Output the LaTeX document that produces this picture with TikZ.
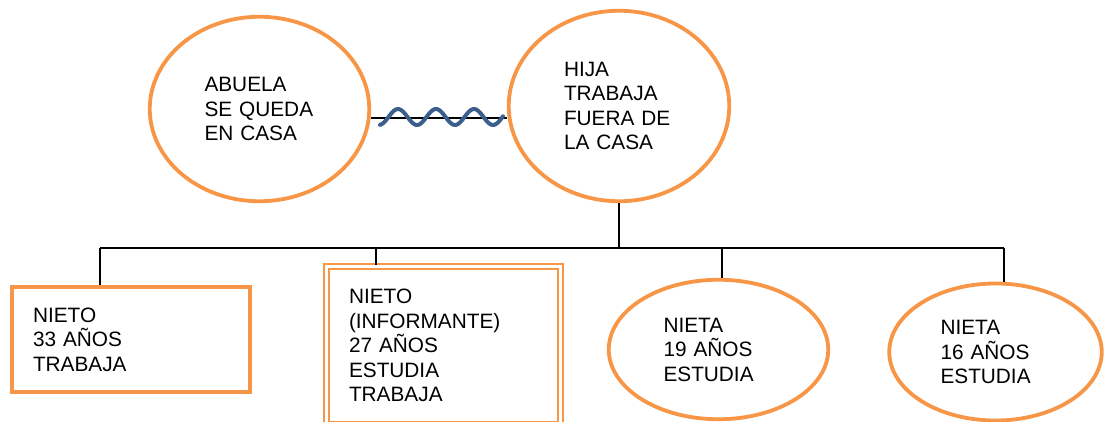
\documentclass[tikz,border=0pt]{standalone}
\usepackage{fontspec}
\setmainfont{Liberation Sans}
\usetikzlibrary{shapes.geometric}
\definecolor{naranja}{RGB}{247,150,70}
\definecolor{azul}{RGB}{59,94,140}
\tikzstyle{circulo} = [ellipse, draw=naranja, line width=3.8pt, inner sep=0pt, text width=110pt, align=left, font=\fontsize{20.8}{24.5}\selectfont]
\tikzstyle{caja} = [rectangle, draw=naranja, line width=3.8pt, inner sep=0pt, align=left, font=\fontsize{20.8}{24.5}\selectfont]
\tikzstyle{cajadoble} = [rectangle, draw=naranja, line width=2pt, double=white, double distance=3pt, inner sep=0pt, align=left, font=\fontsize{20.8}{24.5}\selectfont]
\tikzstyle{linea} = [line width=1.6pt]
\tikzstyle{onda} = [draw=azul, line width=4pt, line cap=round, smooth]

\begin{document}
\begin{tikzpicture}[x=1pt,y=-1pt]
\useasboundingbox (0,0) rectangle (1104,422);
\node (abuela) [circulo, minimum width=219.5pt, minimum height=184.5pt] at (259.5,109) {ABUELA\\SE QUEDA\\EN CASA};
\node (hija) [circulo, minimum width=220.5pt, minimum height=190.5pt] at (619,106) {HIJA\\TRABAJA\\FUERA DE\\LA CASA};
\node (nieto) [caja, minimum width=238.5pt, minimum height=105.5pt, text width=196pt] at (131,339.5) {NIETO\\33 AÑOS\\TRABAJA};
\node (informante) [cajadoble, minimum width=234pt, minimum height=158pt, text width=189pt] at (443.5,345.5) {NIETO\\(INFORMANTE)\\27 AÑOS\\ESTUDIA\\TRABAJA};
\node (nietaA) [circulo, minimum width=219.5pt, minimum height=139.5pt] at (718.5,349.5) {NIETA\\19 AÑOS\\ESTUDIA};
\node (nietaB) [circulo, minimum width=212.5pt, minimum height=137pt] at (995.5,352) {NIETA\\16 AÑOS\\ESTUDIA};

%%% lineas %%%%%%%%%%%%%%%%%%%%%%%
\coordinate (nivel) at (0,118);
\coordinate (b1) at (100,248);
\coordinate (b2) at (376,248);
\coordinate (b3) at (722,248);
\coordinate (b4) at (1004,248);
\draw [linea] (abuela.east |- nivel) -- (hija.west |- nivel);
\draw [onda] plot [domain=380:503, samples=80] (\x, {117-8*cos((\x-398)*9.4737)});
\draw [linea] (hija.south) -- (hija.south |- b1);
\draw [linea] (b1) -- (b4);
\draw [linea] (b1) -- (b1 |- nieto.north);
\draw [linea] (b2) -- (b2 |- informante.north);
\draw [linea] (b3) -- (b3 |- nietaA.north);
\draw [linea] (b4) -- (b4 |- nietaB.north);
\end{tikzpicture}
\end{document}
